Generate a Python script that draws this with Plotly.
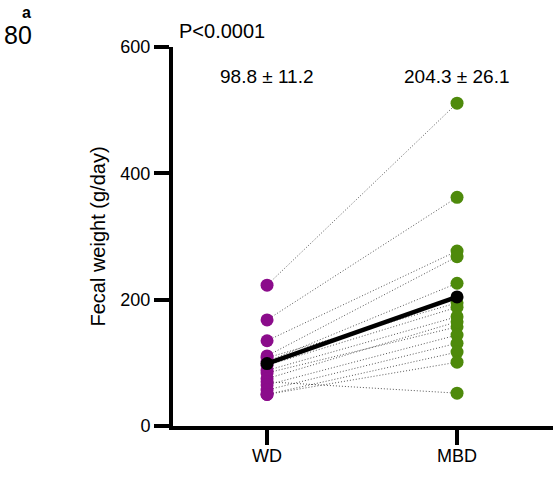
import plotly.graph_objects as go

groups = ["WD", "MBD"]
wd_values = [223, 168, 135, 111, 108, 102, 96, 88, 84, 75, 70, 65, 57, 50, 50]
mbd_values = [511, 362, 277, 268, 195, 226, 188, 173, 157, 165, 52, 144, 131, 117, 101]
mean_values = [98.8, 204.3]
summary_labels = ["98.8 ± 11.2", "204.3 ± 26.1"]
p_label = "P<0.0001"

purple = "#8B0C8B"
green = "#4E8A0B"
FONT = "Liberation Sans, Arial, sans-serif"

fig = go.Figure()

for w, m in zip(wd_values, mbd_values):
    fig.add_trace(go.Scatter(
        x=[0, 1], y=[w, m], mode="lines",
        line=dict(color="#555555", width=1, dash="1px,2px"),
        hoverinfo="skip", showlegend=False))

fig.add_trace(go.Scatter(
    x=[0] * len(wd_values), y=wd_values, mode="markers",
    marker=dict(color=purple, size=13), showlegend=False))
fig.add_trace(go.Scatter(
    x=[1] * len(mbd_values), y=mbd_values, mode="markers",
    marker=dict(color=green, size=13), showlegend=False))
fig.add_trace(go.Scatter(
    x=[0, 1], y=mean_values, mode="lines+markers",
    line=dict(color="black", width=4.5),
    marker=dict(color="black", size=13), showlegend=False))

fig.update_layout(
    width=556, height=487,
    margin=dict(l=173, r=3, t=47, b=61),
    plot_bgcolor="white", paper_bgcolor="white",
    font=dict(family=FONT, size=18, color="black"),
    xaxis=dict(
        range=[-0.495, 1.505], tickmode="array", tickvals=[0, 1], ticktext=groups,
        showline=True, linecolor="black", linewidth=4,
        ticks="outside", ticklen=15, tickwidth=4, tickcolor="black",
        ticklabelstandoff=-5,
        showgrid=False, zeroline=False, tickfont=dict(size=18)),
    yaxis=dict(
        range=[0, 600], tickvals=[0, 200, 400, 600],
        showline=True, linecolor="black", linewidth=4,
        ticks="outside", ticklen=15, tickwidth=4, tickcolor="black",
        showgrid=False, zeroline=False, tickfont=dict(size=18),
        title=dict(text="Fecal weight (g/day)", font=dict(size=20), standoff=10)),
)

fig.add_annotation(xref="paper", yref="paper", x=0, y=1, text=p_label,
                   showarrow=False, xanchor="left", yanchor="middle",
                   xshift=4, yshift=16, font=dict(size=20))
for i, lab in enumerate(summary_labels):
    fig.add_annotation(x=i, y=600, text=lab, showarrow=False,
                       yanchor="middle", yshift=-29, font=dict(size=19))

fig.add_annotation(xref="paper", yref="paper", x=0, y=1,
                   text="<b>a</b>", showarrow=False, xanchor="center", yanchor="middle",
                   xshift=-146.5, yshift=35, font=dict(size=16))
fig.add_annotation(xref="paper", yref="paper", x=0, y=1,
                   text="80", showarrow=False, xanchor="center", yanchor="middle",
                   xshift=-155, yshift=12, font=dict(size=25))

fig.write_html("out.html", config={"displayModeBar": False},
               post_script="document.body.style.margin='0';")
